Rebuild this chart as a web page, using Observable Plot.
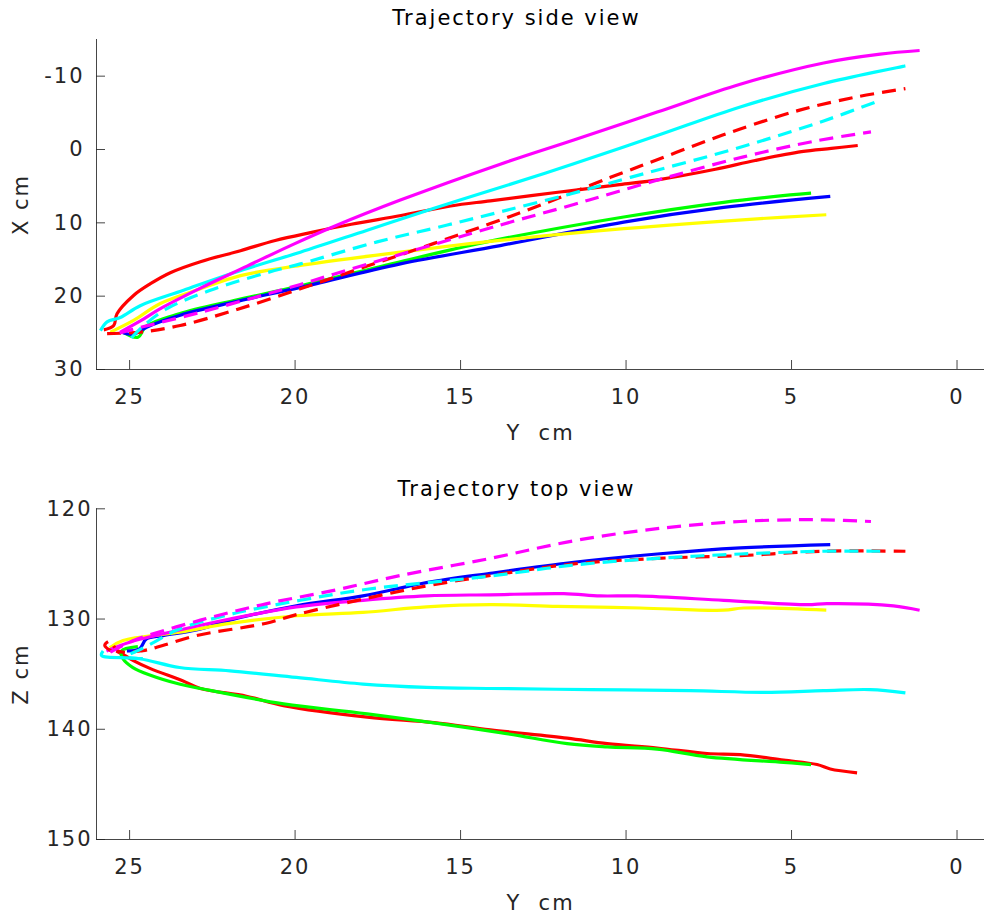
<!DOCTYPE html>
<html><head><meta charset="utf-8">
<script src="https://cdn.jsdelivr.net/npm/d3@7"></script>
<script src="https://cdn.jsdelivr.net/npm/@observablehq/plot@0.6"></script>
<style>
body{margin:0;background:#fff;}
#chart{width:984px;height:918px;}
#chart svg{display:block;}
</style></head><body><div id="chart"></div>
<script>
// ---- axes / ticks ----
const xDomain = [26, -0.83];
const xTicks = [25, 20, 15, 10, 5, 0];
const sideDomain = [30, -15];
const sideTicks = [-10, 0, 10, 20, 30];
const topDomain = [150, 120];
const topTicks = [120, 130, 140, 150];
const titles = ["Trajectory side view", "Trajectory top view"];
const xLabel = "Y  cm";
const sideLabel = "X cm";
const topLabel = "Z cm";

// ---- side view (Y cm horizontal, X cm vertical) ----
const sideY_red = [25.78, 25.48, 25.38, 24.88, 24.37, 23.77, 22.86, 21.65, 20.6, 19.5, 18.3, 16.8, 15.3, 14.1, 12.0, 10.2, 9.0, 7.3, 6.1, 4.7, 3.8, 3.0];
const sideX_red = [24.6, 24.0, 22.4, 19.9, 18.3, 16.8, 15.3, 13.8, 12.4, 11.3, 10.2, 9.0, 7.7, 7.0, 5.8, 4.8, 4.1, 2.7, 1.5, 0.3, -0.15, -0.55];
const sideY_green = [25.2, 24.75, 24.5, 23.5, 21.85, 19.84, 16.82, 14.1, 10.07, 7.05, 5.04, 4.41];
const sideX_green = [24.9, 25.6, 24.1, 22.4, 20.6, 18.6, 15.3, 12.5, 9.2, 7.2, 6.2, 5.95];
const sideY_blue = [25.2, 24.88, 24.47, 23.47, 21.85, 19.84, 16.82, 13.8, 10.07, 7.05, 3.83];
const sideX_blue = [25.0, 25.2, 24.2, 22.6, 20.8, 18.8, 15.6, 13.1, 9.9, 7.9, 6.4];
const sideY_yellow = [25.58, 24.88, 24.07, 22.86, 21.65, 19.84, 16.82, 13.8, 10.07, 6.04, 3.95];
const sideX_yellow = [24.9, 23.3, 21.0, 19.0, 17.2, 15.8, 14.0, 12.4, 10.8, 9.45, 8.9];
const sideY_cyan = [25.88, 25.68, 25.28, 24.68, 23.37, 21.85, 19.84, 17.82, 15.8, 14.1, 11.58, 9.06, 6.55, 4.03, 1.56];
const sideX_cyan = [24.7, 23.5, 22.9, 21.3, 19.2, 16.8, 14.0, 11.0, 8.0, 5.6, 1.95, -1.9, -5.8, -9.0, -11.4];
const sideY_magenta = [25.28, 24.57, 24.07, 22.86, 21.45, 20.04, 18.83, 16.82, 13.8, 11.58, 9.06, 6.55, 4.03, 2.32, 1.13];
const sideX_magenta = [24.9, 23.1, 21.7, 18.9, 15.9, 12.9, 10.5, 6.9, 2.0, -1.3, -5.1, -8.9, -11.8, -13.0, -13.5];
const sideY_redDash = [25.68, 24.68, 23.47, 21.85, 19.84, 17.82, 15.8, 14.1, 12.6, 10.47, 9.06, 7.55, 6.55, 4.73, 3.0, 1.56];
const sideX_redDash = [25.1, 24.9, 24.0, 21.95, 19.0, 15.9, 12.8, 10.1, 7.6, 3.8, 1.4, -1.2, -2.8, -5.4, -7.2, -8.3];
const sideY_cyanDash = [24.95, 24.57, 23.87, 22.56, 20.85, 19.84, 17.52, 15.4, 13.8, 11.8, 9.87, 6.55, 4.03, 2.32];
const sideX_cyanDash = [25.7, 24.0, 21.7, 19.2, 16.8, 15.6, 12.6, 10.3, 8.5, 6.2, 3.8, -0.3, -3.9, -6.7];
const sideY_magentaDash = [25.3, 24.88, 22.86, 20.85, 19.84, 18.83, 16.82, 13.8, 11.58, 10.68, 8.76, 6.45, 4.23, 2.6];
const sideX_magentaDash = [25.0, 24.5, 22.2, 19.7, 18.4, 17.0, 14.3, 10.3, 7.5, 6.3, 3.8, 1.0, -1.2, -2.4];

// ---- top view (Y cm horizontal, Z cm vertical) ----
const topY_red = [25.4, 25.15, 24.9, 24.37, 23.4, 22.86, 21.47, 20.35, 17.82, 15.8, 14.1, 11.78, 10.57, 9.06, 7.55, 6.55, 5.24, 4.23, 3.83, 3.02];
const topZ_red = [132.9, 133.3, 133.75, 134.5, 135.6, 136.3, 137.0, 137.85, 138.9, 139.4, 140.05, 140.8, 141.3, 141.7, 142.2, 142.3, 142.8, 143.2, 143.6, 143.95];
const topY_green = [24.75, 25.25, 25.2, 24.9, 24.37, 23.5, 22.86, 20.35, 17.82, 13.8, 11.78, 10.57, 9.06, 7.55, 5.24, 4.41];
const topZ_green = [132.5, 132.9, 133.6, 134.4, 135.1, 135.9, 136.3, 137.7, 138.6, 140.3, 141.3, 141.6, 141.8, 142.5, 143.0, 143.2];
const topY_blue = [25.08, 24.7, 24.49, 23.99, 22.98, 21.97, 19.96, 17.95, 16.03, 14.1, 11.58, 9.06, 6.55, 3.83];
const topZ_blue = [132.9, 132.7, 131.8, 131.5, 131.0, 130.1, 128.8, 127.9, 126.7, 125.85, 124.85, 124.1, 123.55, 123.25];
const topY_yellow = [25.6, 25.2, 23.49, 21.97, 19.96, 17.95, 16.03, 14.1, 12.08, 9.57, 7.05, 6.45, 3.95];
const topZ_yellow = [132.6, 131.95, 131.2, 130.4, 129.7, 129.4, 128.9, 128.7, 128.85, 129.0, 129.2, 129.0, 129.2];
const topY_cyan = [25.8, 25.85, 24.7, 23.49, 21.97, 19.96, 17.95, 16.03, 14.1, 11.08, 8.06, 5.84, 4.03, 2.62, 1.56];
const topZ_cyan = [132.9, 133.3, 133.6, 134.4, 134.7, 135.3, 135.9, 136.2, 136.3, 136.4, 136.5, 136.65, 136.5, 136.4, 136.7];
const topY_magenta = [25.7, 25.0, 23.49, 21.97, 19.96, 17.95, 16.03, 14.1, 11.88, 10.78, 9.67, 7.05, 4.53, 3.93, 1.92, 1.13];
const topZ_magenta = [132.9, 132.1, 131.0, 130.0, 128.9, 128.3, 127.9, 127.8, 127.7, 127.9, 127.9, 128.3, 128.7, 128.6, 128.8, 129.2];
const topY_redDash = [25.55, 25.75, 25.6, 25.35, 24.6, 24.0, 22.98, 20.9, 19.96, 17.95, 16.03, 14.1, 11.58, 9.06, 6.55, 4.03, 1.56];
const topZ_redDash = [132.9, 132.4, 132.0, 132.9, 132.86, 132.4, 131.5, 130.4, 129.6, 128.2, 127.0, 126.05, 125.0, 124.5, 124.25, 123.85, 123.85];
const topY_cyanDash = [24.6, 25.1, 24.7, 24.2, 23.5, 21.85, 19.84, 17.82, 14.1, 11.58, 9.06, 6.55, 4.03, 2.32];
const topZ_cyanDash = [133.6, 133.4, 132.8, 132.0, 130.9, 129.5, 128.3, 127.3, 126.1, 125.1, 124.5, 124.1, 123.85, 123.85];
const topY_magentaDash = [25.58, 24.88, 22.86, 20.85, 18.83, 16.82, 14.1, 11.58, 9.06, 6.55, 5.04, 4.03, 2.6];
const topZ_magentaDash = [133.0, 131.95, 130.1, 128.6, 127.4, 126.05, 124.5, 122.9, 121.8, 121.15, 121.0, 121.0, 121.15];

// ---- series styles ----
const series = [
  {color: "#ff0000", dash: null, sy: sideY_red, sx: sideX_red, ty: topY_red, tz: topZ_red},
  {color: "#00ff00", dash: null, sy: sideY_green, sx: sideX_green, ty: topY_green, tz: topZ_green},
  {color: "#0000ff", dash: null, sy: sideY_blue, sx: sideX_blue, ty: topY_blue, tz: topZ_blue},
  {color: "#ffff00", dash: null, sy: sideY_yellow, sx: sideX_yellow, ty: topY_yellow, tz: topZ_yellow},
  {color: "#00ffff", dash: null, sy: sideY_cyan, sx: sideX_cyan, ty: topY_cyan, tz: topZ_cyan},
  {color: "#ff00ff", dash: null, sy: sideY_magenta, sx: sideX_magenta, ty: topY_magenta, tz: topZ_magenta},
  {color: "#ff0000", dash: "14,8", sy: sideY_redDash, sx: sideX_redDash, ty: topY_redDash, tz: topZ_redDash},
  {color: "#00ffff", dash: "14,8", sy: sideY_cyanDash, sx: sideX_cyanDash, ty: topY_cyanDash, tz: topZ_cyanDash},
  {color: "#ff00ff", dash: "14,8", sy: sideY_magentaDash, sx: sideX_magentaDash, ty: topY_magentaDash, tz: topZ_magentaDash}
];

const ink = "#262626";

function panel({title, yLabel, yDomain, yTicks, view, height, marginTop, marginBottom, yTickPad, titleDy}) {
  const W = 984, mL = 96, mR = 0;
  const frameW = W - mL - mR, frameH = height - marginTop - marginBottom;
  const lines = series.map(s => {
    const hs = view === "side" ? s.sy : s.ty;
    const vs = view === "side" ? s.sx : s.tz;
    const rows = hs.map((h, i) => ({h, v: vs[i]}));
    return Plot.line(rows, {x: "h", y: "v", stroke: s.color, strokeWidth: 3.2,
      strokeDasharray: s.dash, curve: "catmull-rom", strokeLinejoin: "round", strokeLinecap: "butt"});
  });
  return Plot.plot({
    width: W, height, marginLeft: mL, marginRight: mR, marginTop, marginBottom,
    style: {fontFamily: "'DejaVu Sans'", fontSize: "21px", color: ink, letterSpacing: "2px", background: "white", overflow: "visible"},
    x: {domain: xDomain},
    y: {domain: yDomain},
    marks: [
      ...lines,
      Plot.axisX({ticks: xTicks, tickSize: 0, tickPadding: 19.5, tickFormat: d => String(d), label: null, fill: ink}),
      Plot.axisY({ticks: yTicks, tickSize: 0, tickPadding: yTickPad, tickFormat: d => String(d), label: null, fill: ink}),
      Plot.ruleX(xTicks, {insetTop: frameH - 9, stroke: ink, strokeOpacity: 0.85}),
      Plot.ruleY(yTicks, {insetRight: frameW - 9, stroke: ink, strokeOpacity: 0.85}),
      Plot.ruleX([xDomain[0]], {stroke: ink, strokeOpacity: 0.85}),
      Plot.ruleY([yDomain[0]], {stroke: ink, strokeOpacity: 0.85}),
      Plot.text([title], {text: d => d, frameAnchor: "top", dx: -24, dy: titleDy, lineAnchor: "middle", textAnchor: "middle", fill: "#000"}),
      Plot.text([xLabel], {text: d => d, frameAnchor: "bottom", dy: 63.5, lineAnchor: "middle", textAnchor: "middle", fill: ink}),
      Plot.text([yLabel], {text: d => d, frameAnchor: "left", dx: -75, rotate: -90, lineAnchor: "middle", textAnchor: "middle", fill: ink})
    ]
  });
}

const chart = document.getElementById("chart");
chart.append(panel({title: titles[0], yLabel: sideLabel, yDomain: sideDomain, yTicks: sideTicks, view: "side",
  height: 450, marginTop: 39, marginBottom: 81, yTickPad: 12, titleDy: -21}));
chart.append(panel({title: titles[1], yLabel: topLabel, yDomain: topDomain, yTicks: topTicks, view: "top",
  height: 468, marginTop: 58.3, marginBottom: 79, yTickPad: 4, titleDy: -19.3}));
</script>
</body></html>
